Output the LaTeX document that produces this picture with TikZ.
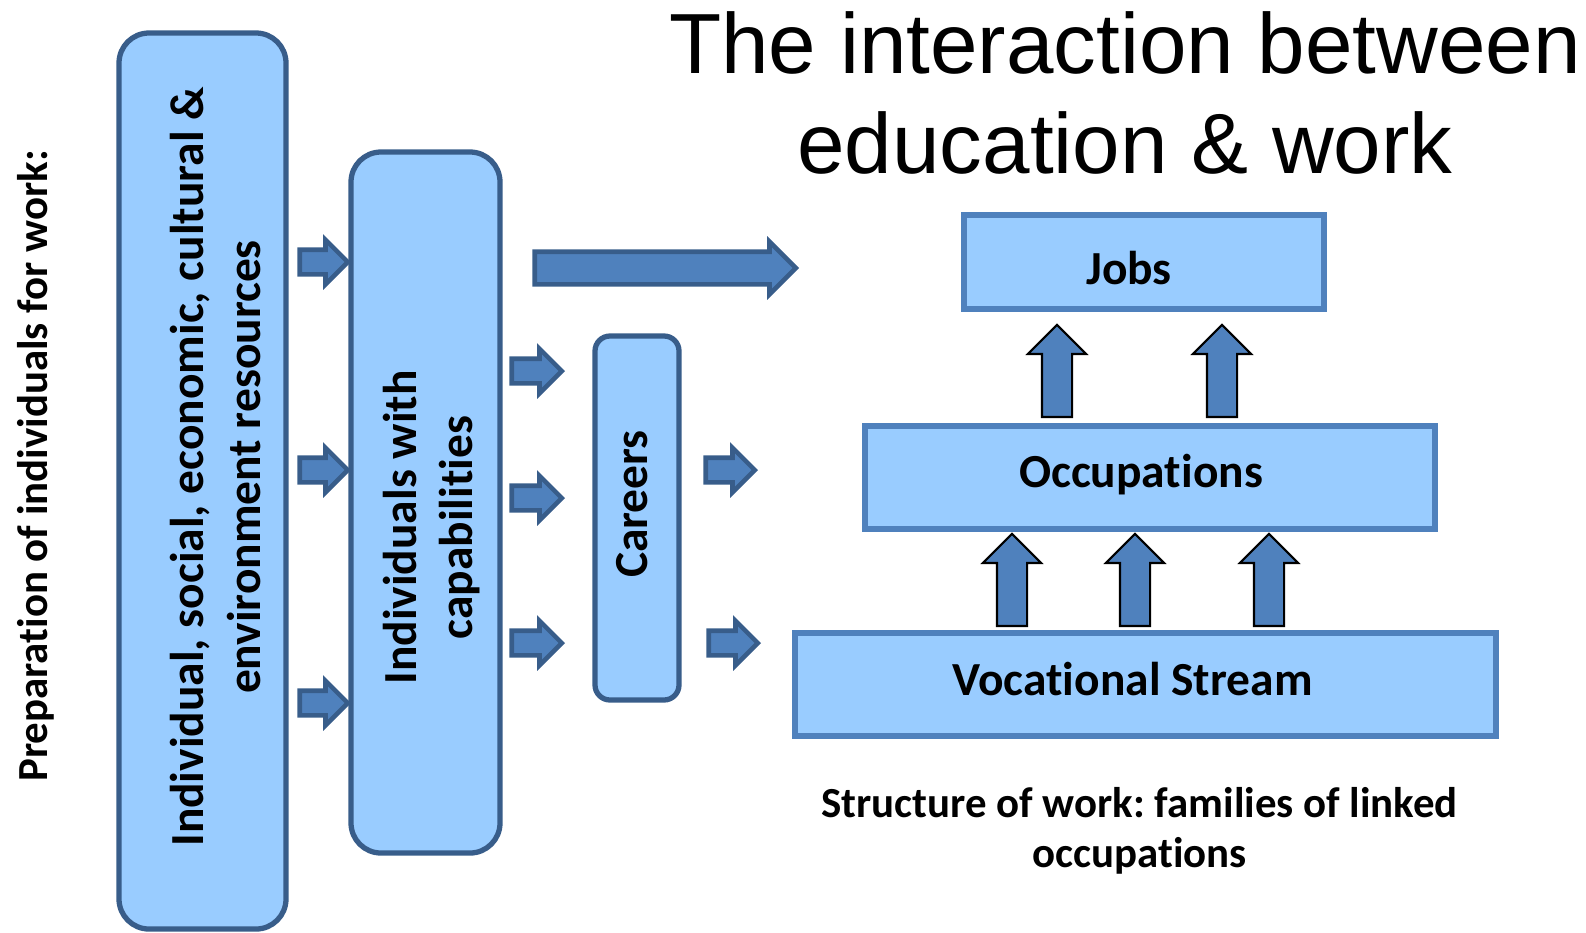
\documentclass[tikz,border=0pt]{standalone}
\usepackage{fontspec}
\setmainfont{Carlito}[Ligatures=NoCommon]
\newfontfamily\headfont{Liberation Sans}
\usetikzlibrary{shapes.arrows, positioning}
\definecolor{boxfill}{HTML}{99CCFF}
\definecolor{boxline}{HTML}{385D8A}
\definecolor{rectline}{HTML}{4F81BD}
\definecolor{arrowfill}{HTML}{4F81BD}
\tikzset{
  resbox/.style={ % tall rounded boxes
	draw=boxline, fill=boxfill, line width=1.5pt,
	rounded corners=3mm, inner sep=0pt,
  },
  workbox/.style={ % flat boxes of the work structure
	draw=rectline, fill=boxfill, line width=1.5pt, inner sep=0pt,
  },
  boxtext/.style={ % bold box captions
	font=\bfseries\fontsize{13.5}{16}\selectfont, align=center,
  },
  note/.style={ % smaller side captions
	font=\bfseries\fontsize{12.2}{14.3}\selectfont, align=center,
  },
  flow/.style={ % short block arrow to the right, #1 is its length
	single arrow, draw=boxline, fill=arrowfill, line width=1.3pt,
	inner xsep=0pt, inner ysep=1.0mm, single arrow head extend=1.0mm,
	minimum height=#1, anchor=tip,
  },
  rise/.style={ % block arrow pointing up
	single arrow, shape border rotate=90, draw=black, fill=arrowfill,
	line width=0.6pt, inner xsep=1.4mm, inner ysep=0pt,
	single arrow head extend=1.4mm, minimum height=9.2mm, anchor=tail,
  },
}

\begin{document}
\begin{tikzpicture}[x=1mm, y=-1mm]
	  \useasboundingbox (0,0) rectangle (158.6,93.2);

	  \node[font=\headfont\fontsize{24.3}{28.2}\selectfont, align=center] (title) at (112.5,9.3) {The interaction between\\education \& work};
	  \node[note, rotate=90] (prep) at (3.6,46.6) {Preparation of individuals for work:};

	  % boxes
	  \node[resbox, minimum width=16.7mm, minimum height=89.6mm] (res) at (20.25,48.1) {};
	  \node[resbox, minimum width=14.9mm, minimum height=70.1mm] (cap) at (42.55,50.25) {};
	  \node[resbox, rounded corners=1.5mm, minimum width=8.4mm, minimum height=36.4mm] (car) at (63.7,51.8) {};
	  \node[workbox, minimum width=36mm, minimum height=9.4mm] (jobs) at (114.4,26.2) {};
	  \node[workbox, minimum width=57mm, minimum height=10.3mm] (occ) at (115,47.75) {};
	  \node[workbox, minimum width=70.1mm, minimum height=10.3mm] (voc) at (114.55,68.45) {};

	  % captions
	  \node[boxtext, rotate=90] (restext) at ([xshift=1.3mm, yshift=1.4mm]res.center) {Individual, social, economic, cultural \&\\environment resources};
	  \node[boxtext, rotate=90] (captext) at ([xshift=0.6mm, yshift=-2.5mm]cap.center) {Individuals with\\capabilities};
	  \node[boxtext, rotate=90] (cartext) at ([xshift=-0.5mm, yshift=1.4mm]car.center) {Careers};
	  \node[boxtext] (jobstext) at ([xshift=-1.5mm, yshift=-0.6mm]jobs.center) {Jobs};
	  \node[boxtext] (occtext) at ([xshift=-0.9mm, yshift=0.3mm]occ.center) {Occupations};
	  \node[boxtext] (voctext) at ([xshift=-1.3mm, yshift=0.5mm]voc.center) {Vocational Stream};
	  \node[note, below=3.6mm of voc, xshift=-0.6mm] (struct) {Structure of work:\ families of linked\\occupations};

	  % arrows
	  \foreach \y/\n in {26.2/1,47.0/2,70.3/3}
		  \node[flow=4.8mm] (in\n) at (35.1,\y) {};
	  \node[flow=26.1mm, inner ysep=1.4mm, single arrow head extend=1.0mm] (reach) at (79.9,26.8) {};
	  \foreach \y/\n in {37.1/1,49.8/2,64.3/3}
		  \node[flow=5.0mm] (tocar\n) at (56.5,\y) {};
	  \node[flow=4.9mm] (out1) at (75.8,47.0) {};
	  \node[flow=4.9mm] (out2) at (76.1,64.3) {};
	  \foreach \x/\n in {105.7/1,122.2/2}
		  \node[rise] (up\n) at (\x,41.8) {};
	  \foreach \x/\n in {101.2/1,113.5/2,126.9/3}
		  \node[rise] (lift\n) at (\x,62.7) {};
\end{tikzpicture}
\end{document}
